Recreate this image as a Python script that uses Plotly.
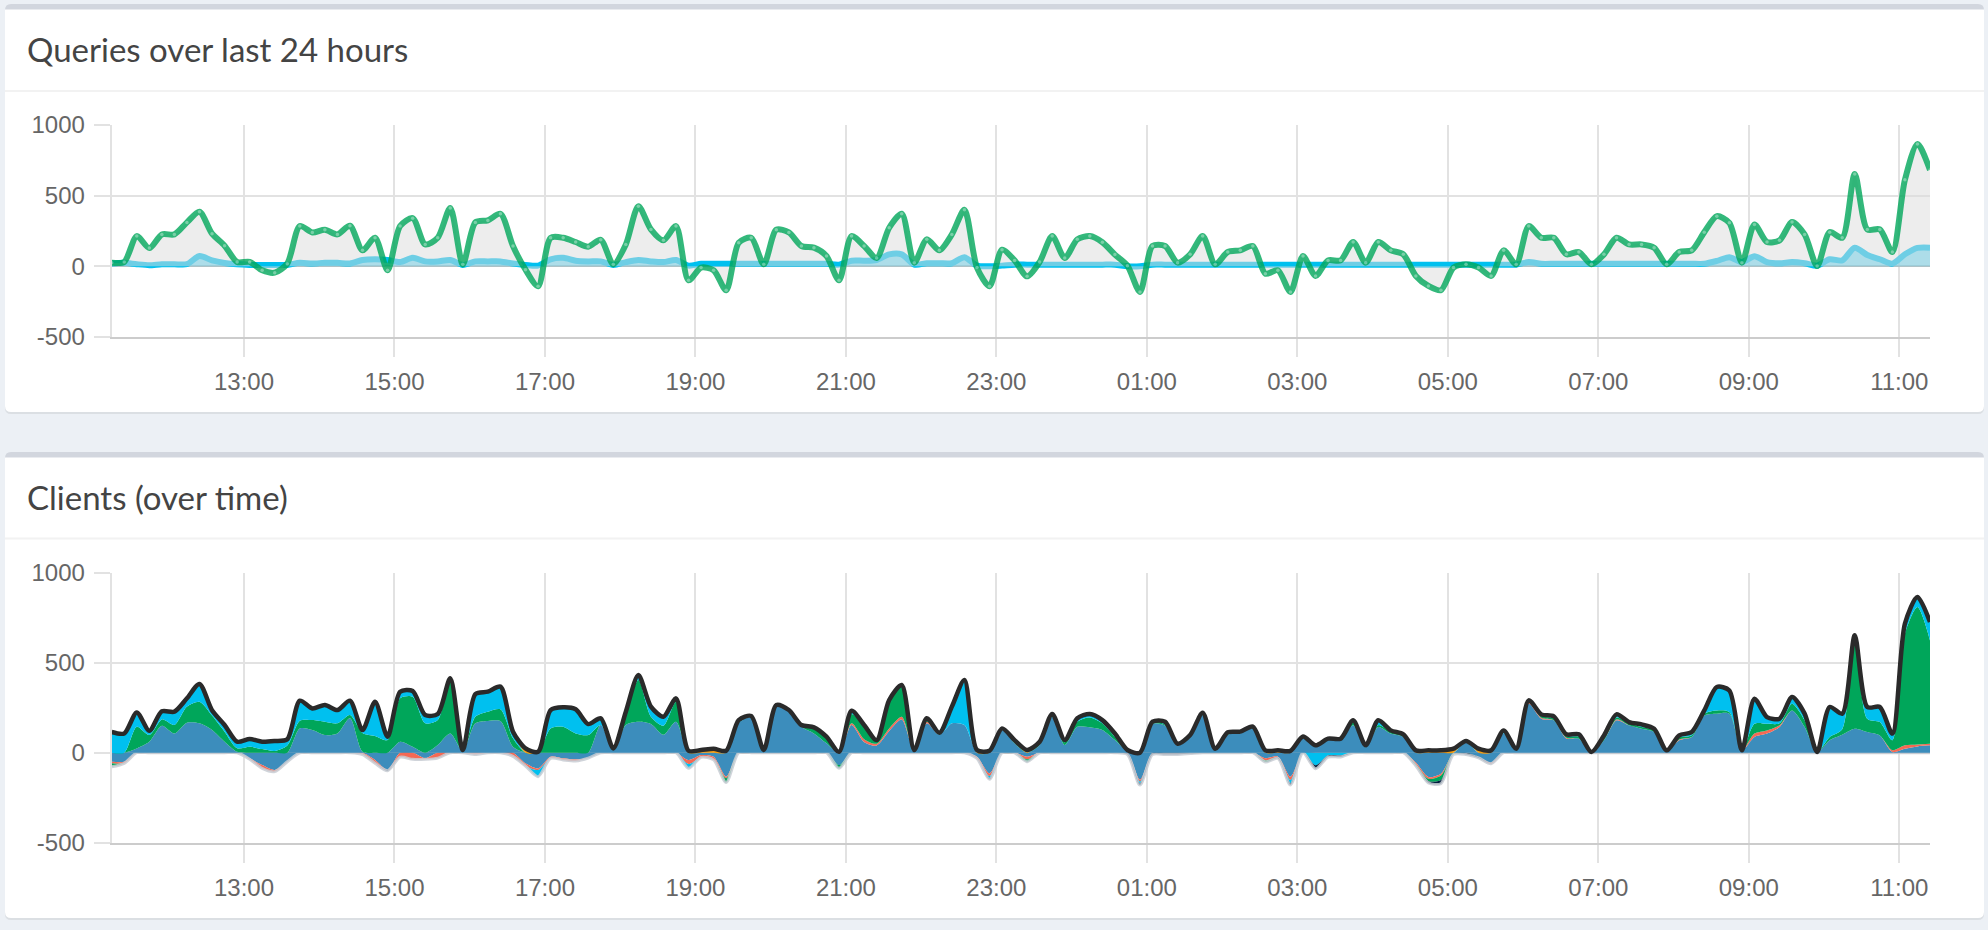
import numpy as np
import pandas as pd
import plotly.graph_objects as go

# ---------------- data (10-minute buckets) ----------------
start_time = "2018-06-01 11:14:30"

total_queries = [
    26, 31, 214, 129, 226, 226, 311, 386, 231, 146,
    31, 31, -28, -45, 19, 285, 240, 259, 226, 287,
    113, 202, -28, 285, 341, 155, 202, 412, 14, 311,
    325, 372, 144, -24, -141, 202, 202, 172, 139, 188,
    14, 155, 426, 261, 184, 285, -99, -9, -28, -169,
    167, 202, 14, 259, 240, 144, 132, 73, -99, 214,
    144, 59, 273, 372, 26, 191, 113, 226, 400, -9,
    -141, 118, 42, -71, 31, 214, 59, 191, 214, 170,
    83, 5, -181, 144, 144, 26, 85, 214, 14, 101,
    113, 144, -52, -28, -181, 73, -68, 42, 42, 172,
    26, 172, 113, 85, -68, -139, -169, -9, 14, -9,
    -68, 113, 14, 285, 202, 202, 85, 101, 14, 85,
    202, 155, 155, 132, 14, 101, 113, 242, 355, 308,
    26, 296, 172, 184, 313, 226, 2, 242, 202, 654,
    261, 261, 101, 612, 866, 682,
]

blocked_queries = [
    20, 25, 15, 8, 15, 15, 15, 73, 42, 24,
    14, 10, 10, 10, 10, 25, 20, 25, 25, 20,
    45, 50, 45, 30, 60, 35, 35, 45, 10, 35,
    35, 35, 20, 10, 5, 50, 60, 40, 35, 35,
    10, 30, 45, 35, 30, 45, 5, 18, 18, 18,
    18, 18, 18, 18, 18, 18, 18, 18, 12, 40,
    40, 45, 85, 85, 12, 22, 22, 22, 65, 5,
    0, 5, 12, 12, 12, 12, 12, 12, 12, 12,
    12, 0, 0, 12, 12, 12, 12, 12, 12, 12,
    12, 12, 12, 12, 12, 12, 12, 12, 12, 12,
    12, 12, 12, 12, 12, 12, 12, 12, 12, 12,
    12, 12, 12, 30, 18, 18, 18, 18, 18, 18,
    18, 18, 18, 18, 18, 18, 18, 18, 38, 65,
    30, 72, 30, 22, 30, 22, 5, 50, 42, 132,
    80, 50, 19, 85, 130, 132,
]

client_lightblue = [
    -50, -50, 24, 61, 150, 107, 167, 163, 126, 61,
    5, -31, -69, -96, -50, 135, 126, 98, 107, 191,
    5, -40, -96, 61, 33, -30, 43, 107, 10, 163,
    176, 176, 33, -59, -87, -22, -31, -37, -30, 154,
    15, 154, 172, 160, 100, 172, -41, -13, -22, -133,
    163, 196, 15, 256, 228, 144, 107, 52, -69, 154,
    60, 40, 120, 185, 10, 163, 98, 163, 154, -22,
    -115, 126, 52, -22, 43, 196, 43, 144, 141, 126,
    70, 10, -150, 160, 150, 39, 90, 209, 20, 100,
    107, 135, -31, -22, -133, 80, 41, 78, 78, 152,
    30, 143, 106, 87, -55, -135, -117, -5, 55, -24,
    -56, 106, 20, 272, 189, 180, 78, 78, 4, 69,
    180, 152, 133, 115, 13, 69, 87, 207, 217, 217,
    13, 87, 106, 143, 235, 143, 4, 69, 100, 133,
    115, 96, 4, 22, 35, 41,
]

client_red = [
    -8, -9, 0, 0, 0, 0, 0, 0, 0, 0,
    0, -5, -18, -9, 0, 0, 0, 0, 0, 0,
    -10, -19, 0, -25, -37, -7, -30, 0, 0, -10,
    0, 0, -20, -15, -9, -9, -9, -9, 0, 0,
    0, 0, 0, 0, 0, 0, -22, -13, -18, -9,
    0, 0, 0, 0, 0, 0, 0, 0, 0, 9,
    15, 10, 15, 15, 0, 9, 0, 0, 0, -10,
    -15, 0, 0, -15, 0, 0, 0, 0, 0, 0,
    0, 0, -10, 0, 0, 0, 0, 0, 0, 0,
    0, 0, -12, -5, -18, 0, 0, 0, 0, 0,
    0, 0, 0, 0, -10, -10, -10, 0, 0, 0,
    -5, 0, 0, 5, 5, 0, 5, 0, 0, 0,
    5, 0, 0, 0, 0, 5, 0, 0, 0, 0,
    0, 19, 18, 10, 0, 0, 0, 0, 0, 0,
    0, 0, 10, 19, 11, 9,
]

client_green = [
    -20, 0, 120, 37, 35, 47, 89, 120, 80, 56,
    20, 33, 20, 10, 40, 43, 55, 74, 56, 18,
    105, 93, 70, 241, 278, 163, 138, 287, 5, 37,
    52, 65, 47, 0, 0, 135, 144, 107, 98, 0,
    0, 55, 232, 40, 50, 111, 0, 0, 0, -24,
    0, 0, 0, 0, 5, 10, 28, 28, -18, 52,
    70, 20, 140, 176, 0, 19, 0, 0, 0, 0,
    0, 0, 8, -13, 10, 0, 15, 28, 55, 37,
    17, 0, 0, 12, 5, 0, 0, 10, 0, 8,
    0, 10, -9, 0, 0, 0, 0, 0, 0, 20,
    0, 10, 10, 10, -8, -13, -25, -5, 0, 0,
    0, 0, 0, 10, 10, 10, 10, 10, 0, 10,
    10, 10, 10, 10, 0, 10, 10, 10, 18, 9,
    0, 55, 37, 10, 37, 37, 0, 18, 30, 491,
    74, 74, 55, 620, 763, 574,
]

client_aqua = [
    115, 107, 80, 24, 45, 74, 46, 99, 30, 37,
    36, 43, 41, 55, 35, 111, 65, 93, 74, 80,
    16, 180, 10, 37, 32, 46, 34, 19, 0, 126,
    111, 126, 37, 0, -37, 102, 108, 134, 61, 37,
    9, 19, 27, 56, 40, 9, -24, 0, 0, 0,
    9, 8, 0, 9, 4, 0, 6, 9, 0, 18,
    9, 0, 18, 0, 5, 0, 13, 93, 250, 0,
    -13, 4, 0, 0, 8, 19, 12, 19, 19, 18,
    20, 5, -10, 0, 17, 11, 8, 3, 2, 5,
    10, 0, 0, 0, -18, 0, -70, -15, -15, 8,
    11, 27, 8, 5, 0, 0, 0, 0, 10, 0,
    0, 18, 2, 4, 9, 12, 9, 14, 0, 17,
    18, 8, 14, 8, 0, 12, 18, 18, 130, 120,
    0, 139, 37, 26, 37, 37, 0, 167, 87, 28,
    65, 84, 37, 56, 56, 102,
]

client_yellow = [
    0, 0, 0, 0, 0, 0, 0, 0, 0, 0,
    0, 0, 0, 0, 0, 0, 0, 0, 0, 0,
    0, 10, 9, 0, 0, 0, 0, 0, 0, 0,
    0, 0, 0, 24, 5, 0, 0, 0, 0, 0,
    0, 0, 0, 0, 10, 10, 11, 15, 22, 11,
    9, 0, 0, 0, 0, 0, 0, 0, 5, 0,
    0, 0, 0, 0, 0, 0, 0, 0, 0, 15,
    11, 5, 10, 15, 0, 0, 0, 0, 0, 0,
    0, 0, 0, 0, 0, 0, 0, 0, 0, 0,
    0, 0, 13, 13, 10, 10, 0, 0, 0, 0,
    0, 0, 0, 0, 13, 13, 13, 22, 0, 22,
    13, 0, 0, 0, 0, 0, 0, 0, 0, 0,
    0, 0, 0, 0, 0, 0, 0, 0, 0, 0,
    0, 0, 0, 0, 0, 0, 0, 0, 0, 0,
    0, 0, 0, 0, 0, 0,
]

client_navy = [
    0, 0, 0, 0, 0, 0, 0, 0, 0, 0,
    0, 0, 0, 0, 0, 0, 0, 0, 0, 0,
    0, 0, -4, 0, 0, 0, 0, 0, 0, 0,
    0, 0, 0, 0, 0, 0, 0, 0, 0, 0,
    0, 0, 0, 0, 0, 0, 0, 0, 0, 0,
    0, 0, 0, 0, 0, 0, 0, 0, 0, 0,
    0, 0, 0, 0, 0, 0, 0, 0, 0, 0,
    -5, 0, 0, 0, 0, 0, 0, 0, 0, 0,
    0, -10, -10, -10, -10, -10, -5, 0, 0, 0,
    0, 0, 0, -5, -10, 0, -19, -9, -9, 0,
    0, 0, 0, 0, 0, -10, -20, 0, -10, -5,
    0, 0, 0, 0, 0, 0, 0, 0, 0, 0,
    0, 0, 0, 0, 0, 0, 0, 0, 0, 0,
    0, 0, 0, 0, 0, 0, 0, 0, 0, 0,
    0, 0, 0, 0, 0, 0,
]

client_black = [
    0, 0, 0, 0, 0, 0, 0, 0, 0, 0,
    0, 0, 0, 0, 0, 0, 0, 0, 0, 0,
    0, 0, 0, 0, 0, 0, 0, 0, 0, 0,
    0, 0, 0, 0, 0, 0, 0, 0, 0, 0,
    0, 0, 0, 0, 0, 0, 0, 0, 0, 0,
    0, 0, 0, 0, 0, 0, 0, 0, 0, 0,
    0, 0, 0, 0, 0, 0, 0, 0, 0, 0,
    0, 0, 0, 0, 0, 0, 0, 0, 0, 0,
    0, 0, 0, 0, 0, 0, 0, 0, 0, 0,
    0, 0, 0, 0, 0, 0, 0, 0, 0, 0,
    0, 0, 0, 0, 0, 0, 0, 0, 0, 0,
    0, 0, 0, 0, 0, 0, 0, 0, 0, 0,
    0, 0, 0, 0, 0, 0, 0, 0, 0, 0,
    0, 0, 0, 0, 0, 0, 0, 0, 0, 0,
    0, 0, 0, 0, 0, 0,
]

y_tick_values = [-500, 0, 500, 1000]
y_tick_labels = ["-500", "0", "500", "1000"]
first_x_tick = "2018-06-01 13:00"

titles = ["Queries over last 24 hours", "Clients (over time)"]

# ---------------- figure ----------------
W, H = 1988, 930
times = pd.date_range(start_time, periods=len(total_queries), freq="10min")


def px(x):
    return x / W


def py(y):
    return 1 - y / H


def rpath(x0, y0, x1, y1, rt, rb):
    X0, X1 = px(x0), px(x1)
    def Y(v):
        return py(v)
    rtx, rty = rt / W, rt / H
    rbx, rby = rb / W, rb / H
    return (
        f"M {X0 + rtx},{Y(y0)} L {X1 - rtx},{Y(y0)} "
        f"Q {X1},{Y(y0)} {X1},{Y(y0) - rty} "
        f"L {X1},{Y(y1) + rby} Q {X1},{Y(y1)} {X1 - rbx},{Y(y1)} "
        f"L {X0 + rbx},{Y(y1)} Q {X0},{Y(y1)} {X0},{Y(y1) + rby} "
        f"L {X0},{Y(y0) - rty} Q {X0},{Y(y0)} {X0 + rtx},{Y(y0)} Z"
    )


fig = go.Figure()

SM = 0.75

# --- top chart ---
fig.add_trace(go.Scatter(
    x=times, y=blocked_queries, mode="lines",
    line=dict(color="#00c0ef", width=6, shape="spline", smoothing=SM),
    fill="tozeroy", fillcolor="rgba(0,192,239,0.5)",
    xaxis="x", yaxis="y", hoverinfo="skip", showlegend=False))
fig.add_trace(go.Scatter(
    x=times, y=total_queries, mode="lines+markers",
    line=dict(color="rgba(0,166,90,0.8)", width=6, shape="spline", smoothing=SM),
    marker=dict(size=3.5, color="rgba(255,255,255,0.35)", line=dict(width=0)),
    fill="tozeroy", fillcolor="rgba(220,220,220,0.5)",
    xaxis="x", yaxis="y", hoverinfo="skip", showlegend=False))

# --- bottom chart (stacked, negatives and positives stacked separately) ---
clients = [
    (client_lightblue, "#3c8dbc"),
    (client_red, "#f56954"),
    (client_green, "#00a65a"),
    (client_aqua, "#00c0ef"),
    (client_yellow, "#f39c12"),
    (client_navy, "#001f3f"),
    (client_black, "#222222"),
]
for sign_group in ("neg", "pos"):
    for vals, col in clients:
        arr = np.array(vals, dtype=float)
        part = np.clip(arr, 0, None) if sign_group == "pos" else np.clip(arr, None, 0)
        is_outline = col == "#222222"
        if is_outline and sign_group == "pos":
            line = dict(color="#2a2a2a", width=4.5, shape="spline", smoothing=SM)
        elif is_outline:
            line = dict(color="rgba(200,205,212,0.85)", width=3, shape="spline", smoothing=SM)
        else:
            line = dict(color=col, width=0, shape="spline", smoothing=SM)
        fig.add_trace(go.Scatter(
            x=times, y=part, mode="lines", stackgroup=sign_group,
            line=line, fillcolor=col,
            xaxis="x2", yaxis="y2", hoverinfo="skip", showlegend=False))

# ---------------- layout ----------------
PL, PR = 111.7, 1930.0
tickfont = dict(family="Liberation Sans, Arial, Helvetica, sans-serif", size=24, color="#666666")
grid = "#e2e2e2"


def xaxis_cfg(anchor):
    return dict(
        type="date", domain=[px(PL), px(PR)], anchor=anchor,
        range=[times[0], times[-1]],
        tick0=first_x_tick, dtick=2 * 3600 * 1000, tickformat="%H:%M",
        showgrid=True, gridcolor=grid, gridwidth=2,
        ticks="outside", ticklen=18, tickwidth=2, tickcolor=grid,
        showline=True, linecolor="#cccccc", linewidth=2,
        zeroline=False, tickfont=tickfont, fixedrange=True,
        ticklabelstandoff=4, automargin=False,
    )


def yaxis_cfg(anchor, top_px, bottom_px):
    return dict(
        domain=[py(bottom_px), py(top_px)], anchor=anchor,
        range=[-500, 1000], tickvals=y_tick_values, ticktext=y_tick_labels,
        showgrid=True, gridcolor=grid, gridwidth=2,
        zeroline=True, zerolinecolor="#bfbfbf", zerolinewidth=2,
        ticks="outside", ticklen=16, tickwidth=2, tickcolor=grid,
        showline=True, linecolor=grid, linewidth=2,
        tickfont=tickfont, fixedrange=True, ticklabelstandoff=4,
        automargin=False,
    )


shapes = []
for (top, bottom, sep) in [(4, 412, 91), (452, 918, 538.5)]:
    shapes.append(dict(type="path", xref="paper", yref="paper", layer="below",
                       path=rpath(5, top + 2, 1984, bottom + 2, 6, 6),
                       fillcolor="rgba(0,0,0,0.07)", line=dict(width=0)))
    shapes.append(dict(type="path", xref="paper", yref="paper", layer="below",
                       path=rpath(5, top, 1984, bottom, 6, 6),
                       fillcolor="#d2d6de", line=dict(width=0)))
    shapes.append(dict(type="path", xref="paper", yref="paper", layer="below",
                       path=rpath(5, top + 5.5, 1984, bottom, 0.01, 6),
                       fillcolor="#ffffff", line=dict(width=0)))
    shapes.append(dict(type="line", xref="paper", yref="paper", layer="below",
                       x0=px(5), x1=px(1984), y0=py(sep), y1=py(sep),
                       line=dict(color="#f2f2f2", width=2)))

annotations = []
for title, cy in zip(titles, [49, 497]):
    annotations.append(dict(
        text=title, xref="paper", yref="paper", x=px(25), y=py(cy),
        xanchor="left", yanchor="middle", showarrow=False,
        font=dict(family="Lato, 'Source Sans Pro', sans-serif", size=33, color="#444444")))

fig.update_layout(
    width=W, height=H, autosize=False,
    margin=dict(l=0, r=0, t=0, b=0, pad=0, autoexpand=False),
    paper_bgcolor="#ecf0f5", plot_bgcolor="rgba(0,0,0,0)",
    showlegend=False, hovermode=False,
    xaxis=xaxis_cfg("y"),
    yaxis=yaxis_cfg("x", 125, 337),
    xaxis2=xaxis_cfg("y2"),
    yaxis2=yaxis_cfg("x2", 572.7, 842.7),
    shapes=shapes, annotations=annotations,
)

fig.write_html(
    "out.html",
    config={"displayModeBar": False, "staticPlot": True},
    post_script="document.body.style.margin='0';document.body.style.overflow='hidden';document.body.style.background='#ecf0f5';",
)
